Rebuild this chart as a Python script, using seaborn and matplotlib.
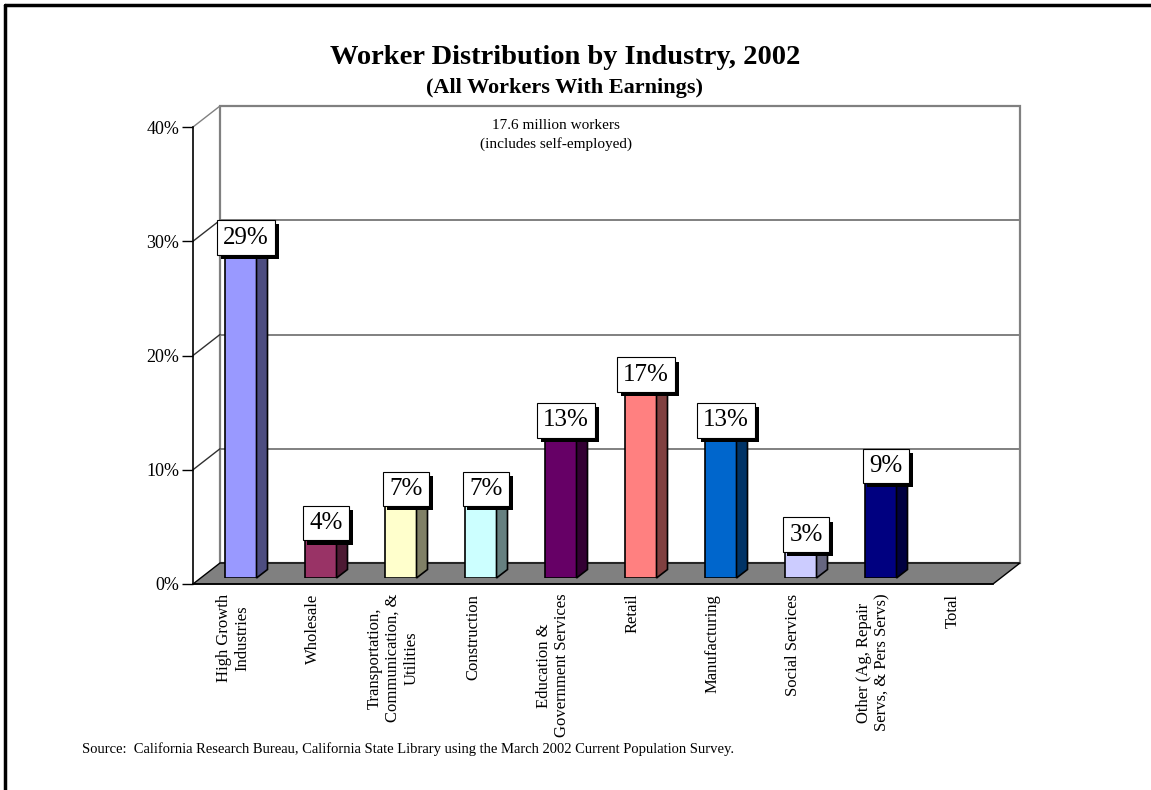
import seaborn as sns
import pandas as pd
import matplotlib.pyplot as plt
from matplotlib.patches import Polygon
from matplotlib.lines import Line2D
import matplotlib.patheffects as pe

sns.set_style('white')
plt.rcParams['font.family'] = ['Liberation Serif', 'DejaVu Serif']
plt.rcParams['text.color'] = 'black'
plt.rcParams['xtick.color'] = 'black'
plt.rcParams['ytick.color'] = 'black'

industries = ["High Growth\nIndustries", "Wholesale", "Transportation,\nCommunication, &\nUtilities",
              "Construction", "Education &\nGovernment Services", "Retail", "Manufacturing",
              "Social Services", "Other (Ag, Repair\nServs, & Pers Servs)", "Total"]
shares = [29, 4, 7, 7, 13, 17, 13, 3, 9, None]
bar_colors = ["#9999FF", "#993366", "#FFFFCC", "#CCFFFF", "#660066",
              "#FF8080", "#0066CC", "#CCCCFF", "#000080", "#FFFFFF"]
yticks = [0, 10, 20, 30, 40]

df = pd.DataFrame({"industry": industries, "share": shares}).dropna()

W, H = 1151, 790
fig = plt.figure(figsize=(W / 100, H / 100), dpi=100)

x0, x1, y0, y1 = 193, 993, 584, 127
ax = fig.add_axes([x0 / W, (H - y0) / H, (x1 - x0) / W, (y0 - y1) / H])
ax.set_xlim(-0.5, len(industries) - 0.5)
ax.set_ylim(0, 40)
ax.patch.set_alpha(0)

px_x = (x1 - x0) / len(industries)   # pixels per category
px_y = (y0 - y1) / 40.0              # pixels per percent
wall_dx, wall_dy = 27 / px_x, 21 / px_y

# floor
xl, xr = -0.5, len(industries) - 0.5
ax.add_patch(Polygon([(xl, 0), (xr, 0), (xr + wall_dx, wall_dy), (xl + wall_dx, wall_dy)],
                     closed=True, facecolor="#808080", edgecolor="black", lw=1, clip_on=False, zorder=1))
# back wall and left wall
ax.add_patch(Polygon([(xl + wall_dx, wall_dy), (xr + wall_dx, wall_dy),
                      (xr + wall_dx, 40 + wall_dy), (xl + wall_dx, 40 + wall_dy)],
                     closed=True, facecolor="none", edgecolor="#808080", lw=1.6, clip_on=False, zorder=0.5))
for t in yticks[1:]:
    ax.plot([xl + wall_dx, xr + wall_dx], [t + wall_dy] * 2, color="#808080", lw=1.4, clip_on=False, zorder=0.5)
    ax.plot([xl, xl + wall_dx], [t, t + wall_dy], color="#303030" if t < 40 else "#808080",
            lw=1.0, clip_on=False, zorder=0.6)

ax.set_yticks(yticks)
ax.set_yticklabels([f"{t}%" for t in yticks], fontsize=13)
ax.set_xticks(range(len(industries)))
ax.set_xticklabels(industries, rotation=90, fontsize=12, va="top", ha="center", multialignment="center")
ax.set_xticks([i - 0.5 for i in range(len(industries) + 1)], minor=True)
ax.tick_params(axis="x", which="major", length=0, pad=7)
ax.tick_params(axis="x", which="minor", length=8, width=1, color="black", direction="out")
ax.tick_params(axis="y", length=8, width=1, color="black", direction="out", left=True, pad=2)
for s in ["top", "right"]:
    ax.spines[s].set_visible(False)
for s in ["left", "bottom"]:
    ax.spines[s].set_color("black")
    ax.spines[s].set_linewidth(1.2)
    ax.spines[s].set_zorder(3)
ax.set_xlabel("")
ax.set_ylabel("")

# bars sit a bit behind the front plane
bx, by = 7.5, 6
axb = fig.add_axes([(x0 + bx) / W, (H - y0 + by) / H, (x1 - x0) / W, (y0 - y1) / H], zorder=2)
sns.barplot(data=df, x="industry", y="share", hue="industry", order=industries,
            palette=dict(zip(industries, bar_colors)), width=0.4, edgecolor="black", saturation=1,
            linewidth=1.2, legend=False, dodge=False, ax=axb)
axb.set_xlim(-0.5, len(industries) - 0.5)
axb.set_ylim(0, 40)
axb.axis("off")

dx, dy = 11 / px_x, 8.5 / px_y
for p in list(axb.patches):
    x, w, h = p.get_x(), p.get_width(), p.get_height()
    if not h or h != h:
        continue
    fc = p.get_facecolor()
    dark = (fc[0] * 0.5, fc[1] * 0.5, fc[2] * 0.5, 1)
    axb.add_patch(Polygon([(x + w, 0), (x + w + dx, dy), (x + w + dx, h + dy), (x + w, h)],
                          closed=True, facecolor=dark, edgecolor="black", lw=1.2, clip_on=False))
    axb.add_patch(Polygon([(x, h), (x + w, h), (x + w + dx, h + dy), (x + dx, h + dy)],
                          closed=True, facecolor=fc, edgecolor="black", lw=1.2, clip_on=False))
    t = axb.text(x + w / 2 + dx / 2, h + 0.8, f"{h:.0f}%", ha="center", va="center", fontsize=18,
                 zorder=5, bbox=dict(boxstyle="square,pad=0.25", facecolor="white", edgecolor="black", lw=0.8))
    t.get_bbox_patch().set_path_effects([pe.SimplePatchShadow(offset=(3, -3), shadow_rgbFace="black", alpha=1),
                                         pe.Normal()])

fig.text(565 / W, 1 - 57 / H, "Worker Distribution by Industry, 2002", ha="center", va="center",
         fontsize=20.5, fontweight="bold")
fig.text(565 / W, 1 - 88 / H, "(All Workers With Earnings)", ha="center", va="center",
         fontsize=16, fontweight="bold")
fig.text(556 / W, 1 - 135 / H, "17.6 million workers\n(includes self-employed)", ha="center", va="center",
         fontsize=11, linespacing=1.5)
fig.text(82 / W, 1 - 749 / H,
         "Source:  California Research Bureau, California State Library using the March 2002 Current Population Survey.",
         ha="left", va="center", fontsize=10.5)

# page frame
fig.add_artist(Line2D([5 / W, 1], [1 - 5 / H] * 2, color="black", lw=2.5))
fig.add_artist(Line2D([5 / W] * 2, [0, 1 - 5 / H], color="black", lw=2.5))

fig.savefig("out.png", dpi=100)
